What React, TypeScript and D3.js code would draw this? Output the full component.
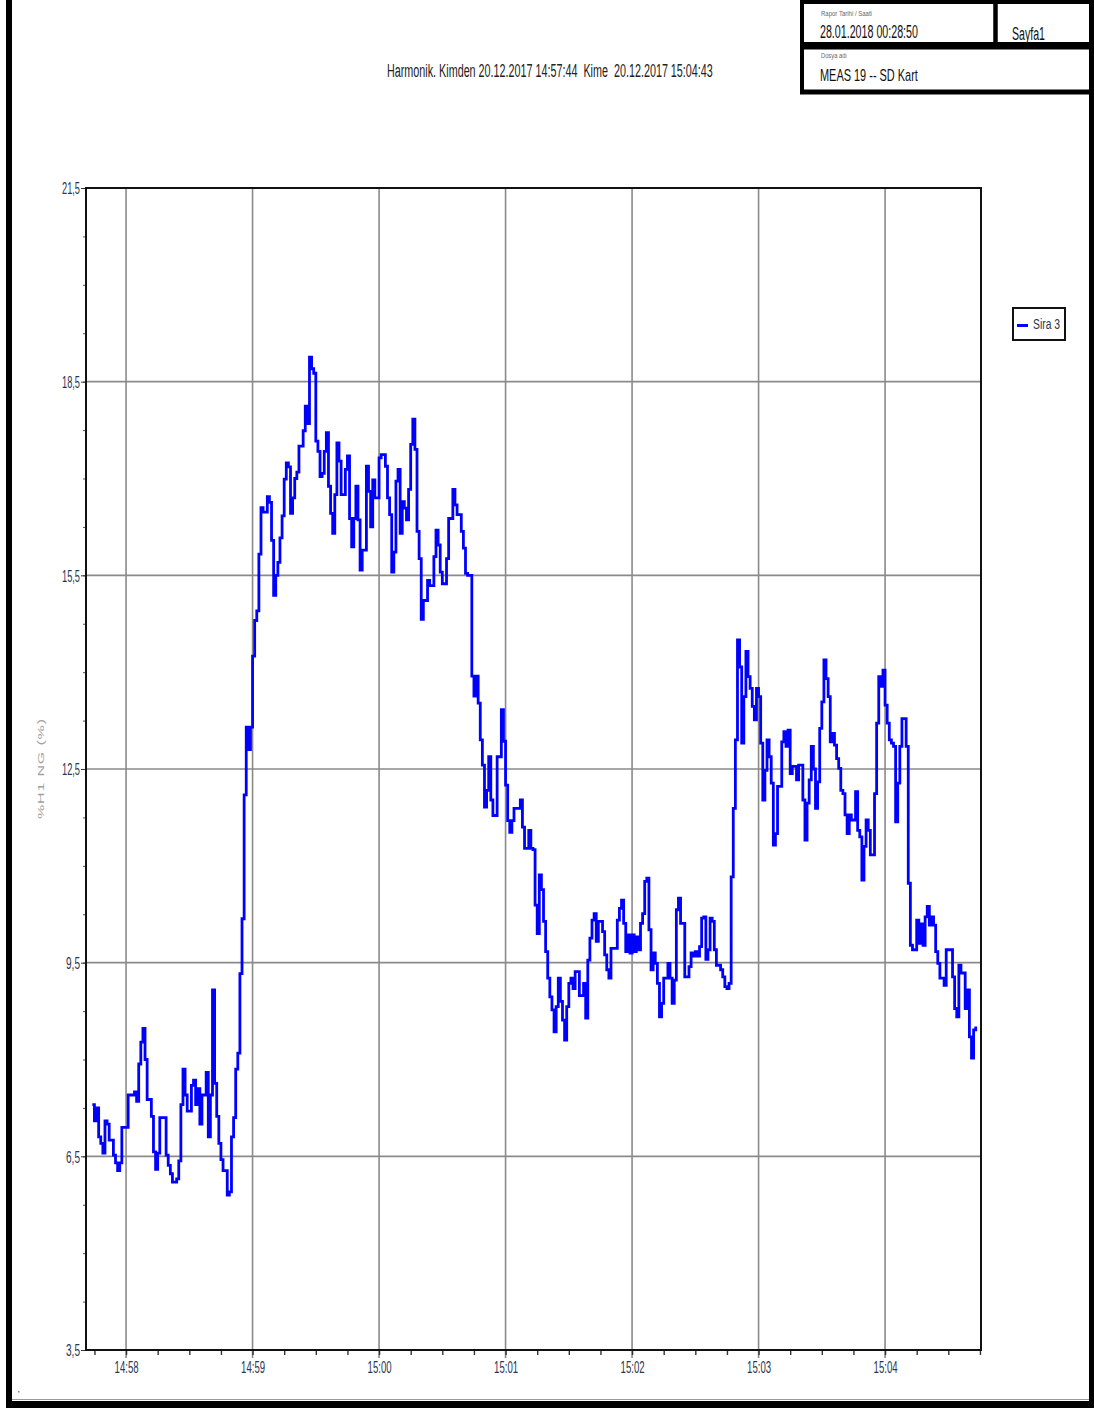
import React, { useEffect, useRef } from 'react';
import * as d3 from 'd3';

// recording window
const startTime = new Date(2017, 11, 20, 14, 57, 44);
const endTime = new Date(2017, 11, 20, 15, 4, 43);

// seconds after 14:57:44
const seconds = [
  0, 1, 2, 3, 4, 5, 6, 7, 8, 10, 11, 12, 13, 14, 17, 20, 21, 22, 23, 24, 25, 26, 28, 29, 30, 31, 32, 35, 36, 37, 38, 40,
  41, 42, 43, 44, 45, 47, 48, 49, 50, 51, 52, 54, 55, 56, 57, 58, 59, 60, 61, 62, 64, 65, 66, 67, 68, 69, 70, 71, 72, 73,
  74, 75, 76, 77, 78, 79, 80, 81, 83, 84, 85, 86, 87, 88, 89, 90, 91, 92, 93, 94, 95, 96, 97, 98, 100, 101, 102, 103, 104,
  105, 106, 107, 108, 109, 110, 111, 112, 113, 114, 115, 116, 117, 118, 120, 121, 122, 123, 124, 125, 126, 127, 128, 130,
  131, 132, 133, 134, 136, 137, 139, 140, 141, 142, 143, 144, 145, 146, 147, 148, 149, 150, 151, 152, 153, 154, 155, 156,
  157, 159, 160, 162, 163, 164, 165, 166, 168, 169, 171, 172, 173, 175, 176, 177, 178, 180, 181, 182, 183, 184, 185, 186,
  187, 188, 189, 190, 192, 194, 195, 196, 197, 198, 199, 200, 203, 204, 205, 207, 208, 209, 210, 211, 212, 213, 214, 215,
  216, 217, 218, 219, 220, 221, 222, 223, 224, 225, 226, 227, 228, 229, 231, 233, 234, 235, 236, 237, 238, 239, 240, 242,
  243, 244, 245, 246, 249, 250, 251, 252, 253, 254, 255, 256, 257, 258, 259, 260, 261, 262, 263, 264, 265, 266, 267, 268,
  269, 270, 271, 273, 274, 275, 276, 277, 278, 279, 281, 283, 284, 285, 286, 287, 288, 289, 290, 291, 292, 293, 294, 295,
  296, 298, 299, 300, 301, 302, 303, 304, 305, 306, 307, 308, 309, 310, 311, 312, 313, 314, 315, 316, 317, 318, 319, 320,
  321, 322, 323, 324, 325, 327, 328, 329, 330, 331, 332, 334, 335, 337, 338, 339, 340, 341, 342, 343, 344, 345, 346, 347,
  348, 349, 350, 351, 352, 353, 354, 355, 356, 357, 358, 359, 360, 362, 363, 364, 365, 366, 367, 368, 369, 371, 372, 373,
  374, 375, 376, 377, 378, 379, 380, 381, 382, 383, 384, 386, 387, 388, 389, 391, 392, 393, 394, 395, 396, 397, 398, 399,
  400, 401, 402, 404, 405, 408, 409, 410, 411, 412, 414, 415, 416, 417, 418, 419,
];

// %H1 NG (%) readings
const values = [
  7.3, 7.05, 7.25, 6.8, 6.7, 6.55, 7.05, 7.0, 6.75, 6.52, 6.4, 6.28, 6.4, 6.95, 7.45, 7.5, 7.35, 7.93, 8.27, 8.48, 8.0, 7.38,
  7.12, 6.57, 6.3, 6.55, 7.1, 6.52, 6.36, 6.23, 6.1, 6.15, 6.43, 7.3, 7.85, 7.45, 7.2, 7.6, 7.68, 7.3, 7.55, 7.0, 7.45, 7.8,
  6.8, 7.45, 9.08, 7.63, 7.12, 6.7, 6.45, 6.28, 5.9, 5.95, 6.8, 7.1, 7.85, 8.1, 9.33, 10.18, 12.1, 13.15, 12.8, 13.15, 14.25,
  14.8, 14.95, 15.83, 16.55, 16.48, 16.72, 16.63, 16.04, 15.19, 15.5, 15.7, 16.08, 16.42, 16.99, 17.24, 17.18, 16.46, 16.7,
  17.0, 17.1, 17.5, 17.74, 18.12, 17.85, 18.88, 18.7, 18.63, 17.58, 17.42, 17.03, 17.08, 17.42, 17.71, 16.88, 16.46, 16.15,
  16.75, 17.55, 17.27, 16.75, 17.14, 17.35, 16.38, 15.94, 16.38, 16.88, 16.36, 15.58, 15.89, 17.19, 16.8, 16.25, 16.98, 16.7,
  17.32, 17.37, 17.19, 16.7, 16.44, 15.55, 15.86, 16.96, 17.14, 16.15, 16.64, 16.54, 16.36, 16.83, 17.53, 17.92, 17.45, 16.18,
  15.76, 14.82, 15.11, 15.42, 15.34, 15.79, 16.2, 15.97, 15.55, 15.37, 15.76, 16.38, 16.83, 16.59, 16.44, 16.18, 15.92, 15.53,
  15.5, 13.94, 13.63, 13.94, 13.52, 12.95, 12.56, 11.91, 12.17, 12.69, 12.02, 11.78, 12.69, 13.42, 12.93, 12.25, 11.7, 11.52,
  11.7, 11.89, 12.02, 11.6, 11.27, 11.55, 11.27, 11.25, 10.39, 9.95, 10.86, 10.63, 10.14, 9.67, 9.26, 8.97, 8.77, 8.43, 8.82,
  9.26, 8.9, 8.61, 8.3, 8.82, 9.18, 9.26, 9.1, 9.36, 8.99, 9.18, 8.64, 9.54, 9.88, 10.16, 10.26, 9.83, 10.14, 9.98, 9.62, 9.39,
  9.26, 9.72, 10.16, 10.34, 10.47, 10.11, 9.67, 9.93, 9.65, 9.93, 9.67, 9.9, 9.7, 10.11, 10.26, 10.76, 10.81, 10.01, 9.39,
  9.65, 9.49, 9.18, 8.66, 8.87, 9.26, 9.49, 9.26, 8.87, 9.23, 10.32, 10.5, 10.11, 9.28, 9.44, 9.65, 9.6, 9.67, 9.6, 9.75,
  10.19, 10.21, 9.55, 9.7, 10.19, 10.14, 9.7, 9.46, 9.39, 9.28, 9.13, 9.1, 9.18, 10.83, 11.89, 12.95, 14.5, 14.08, 12.9,
  13.62, 14.32, 13.93, 13.75, 13.47, 13.26, 13.75, 13.62, 12.9, 12.02, 12.48, 12.95, 12.69, 12.28, 11.32, 11.5, 12.23, 12.92,
  13.08, 12.85, 13.1, 12.43, 12.54, 12.33, 12.56, 12.02, 11.4, 11.97, 12.33, 12.85, 12.5, 11.89, 12.3, 13.13, 13.54, 14.19,
  13.9, 13.62, 12.92, 13.05, 12.87, 12.66, 12.51, 12.17, 12.12, 11.79, 11.5, 11.79, 11.71, 12.15, 11.55, 11.45, 10.78, 11.3,
  11.71, 11.55, 11.17, 12.12, 13.21, 13.93, 13.78, 14.03, 13.49, 13.21, 12.95, 12.9, 12.85, 11.68, 12.28, 12.85, 13.28, 12.85,
  10.73, 9.77, 9.7, 10.16, 9.8, 10.1, 9.77, 10.21, 10.37, 10.08, 10.21, 10.08, 9.67, 9.49, 9.26, 9.15, 9.7, 9.28, 8.79, 8.66,
  9.46, 9.34, 8.79, 9.08, 8.35, 8.02, 8.46, 8.51,
];

const yTicks = [3.5, 6.5, 9.5, 12.5, 15.5, 18.5, 21.5];
const xTickLabels = ['14:58', '14:59', '15:00', '15:01', '15:02', '15:03', '15:04'];
const seriesName = 'Sira 3';
const yTitle = '%H1 NG (%)';
const title = 'Harmonik. Kimden 20.12.2017 14:57:44  Kime  20.12.2017 15:04:43';
const reportDateLabel = 'Rapor Tarihi / Saati';
const reportDate = '28.01.2018 00:28:50';
const pageLabel = 'Sayfa1';
const fileLabel = 'Dosya adı';
const fileName = 'MEAS 19 -- SD Kart';

const App: React.FC = () => {
  const svgRef = useRef<SVGSVGElement>(null);

  useEffect(() => {
    if (!svgRef.current) return;
    const svg = d3.select(svgRef.current);
    svg.selectAll('*').remove();

    const W = 1094;
    const H = 1408;
    const plot = { left: 86, right: 981, top: 188, bottom: 1350 };
    const font = "'Liberation Sans', Arial, sans-serif";
    const labelColor = '#2b3650';

    svg.append('rect').attr('width', W).attr('height', H).attr('fill', '#fff');

    // page frame
    const frame = svg.append('g').attr('fill', '#000');
    frame.append('rect').attr('x', 6).attr('y', 0).attr('width', 6).attr('height', H);
    frame.append('rect').attr('x', 1089).attr('y', 0).attr('width', 5).attr('height', H);
    frame.append('rect').attr('x', 6).attr('y', 1401).attr('width', W - 6).attr('height', 7);
    svg.append('line').attr('x1', 12).attr('x2', 1089).attr('y1', 1399.5).attr('y2', 1399.5)
      .attr('stroke', '#999').attr('stroke-width', 1);
    svg.append('rect').attr('x', 18).attr('y', 1391).attr('width', 1.5).attr('height', 1.5).attr('fill', '#888');

    // header boxes
    const hdr = svg.append('g').attr('fill', 'none').attr('stroke', '#000');
    hdr.append('rect').attr('x', 802).attr('y', 2).attr('width', 193.5).attr('height', 42).attr('stroke-width', 4);
    hdr.append('rect').attr('x', 995.5).attr('y', 2).attr('width', 95.5).attr('height', 42).attr('stroke-width', 4);
    hdr.append('rect').attr('x', 802).attr('y', 47.5).attr('width', 289).attr('height', 44).attr('stroke-width', 4);
    hdr.append('line').attr('x1', 800).attr('x2', 1094).attr('y1', 92.5).attr('y2', 92.5).attr('stroke-width', 4);

    // narrow text: draw at natural width, then squeeze horizontally to the target width
    const addText = (txt: string, xPos: number, yPos: number, size: number, len: number, color = '#111') => {
      const t = svg.append('text')
        .attr('x', 0).attr('y', 0)
        .attr('font-family', font).attr('font-size', size)
        .attr('fill', color)
        .style('white-space', 'pre')
        .text(txt);
      const natural = (t.node() as SVGTextElement).getComputedTextLength() || len;
      t.attr('transform', `translate(${xPos},${yPos}) scale(${len / natural},1)`);
      return t;
    };

    addText(reportDateLabel, 821, 16, 7, 51, '#666');
    addText(reportDate, 820, 38, 19, 98);
    addText(pageLabel, 1012, 40, 18, 33);
    addText(fileLabel, 821, 58, 7, 26, '#666');
    addText(fileName, 820, 81, 17, 98);
    addText(title, 387, 77, 19, 326, '#222');

    // scales
    const x = d3.scaleTime()
      .domain([d3.timeSecond.offset(startTime, -3), d3.timeMillisecond.offset(endTime, 2500)])
      .range([plot.left, plot.right]);
    const y = d3.scaleLinear().domain([3.5, 21.5]).range([plot.bottom, plot.top]);

    const minuteDates = xTickLabels.map(s => {
      const [h, m] = s.split(':').map(Number);
      return new Date(2017, 11, 20, h, m, 0);
    });

    // gridlines
    const grid = svg.append('g').attr('stroke', '#8a8a8a').attr('stroke-width', 1.6);
    grid.selectAll('line.h')
      .data(yTicks.filter(v => v > 3.5 && v < 21.5))
      .join('line')
      .attr('x1', plot.left).attr('x2', plot.right)
      .attr('y1', d => y(d)).attr('y2', d => y(d));
    grid.selectAll('line.v')
      .data(minuteDates)
      .join('line')
      .attr('x1', d => x(d)).attr('x2', d => x(d))
      .attr('y1', plot.top).attr('y2', plot.bottom + 8);

    // y axis
    const yMinor = d3.range(yTicks[0], yTicks[yTicks.length - 1] + 1e-6, 0.75);
    const yMinorAxis = svg.append('g')
      .attr('transform', `translate(${plot.left},0)`)
      .call(d3.axisLeft(y).tickValues(yMinor).tickSize(3).tickFormat(() => ''));
    yMinorAxis.select('.domain').remove();
    yMinorAxis.selectAll('line').attr('stroke', '#555');

    const yAxis = svg.append('g')
      .attr('transform', `translate(${plot.left},0)`)
      .call(d3.axisLeft(y).tickValues(yTicks).tickSize(5).tickPadding(1)
        .tickFormat(d => (d as number).toFixed(1).replace('.', ',')));
    yAxis.select('.domain').remove();
    yAxis.selectAll('line').attr('stroke', '#333');
    yAxis.selectAll<SVGTextElement, number>('text')
      .attr('font-family', font).attr('font-size', 16).attr('fill', labelColor)
      .attr('dy', '0.36em')
      .attr('textLength', d => (d >= 10 ? 18 : 14)).attr('lengthAdjust', 'spacingAndGlyphs');

    // x axis
    const xMinor = d3.timeSecond.every(15)!.range(x.domain()[0], x.domain()[1]);
    const xMinorAxis = svg.append('g')
      .attr('transform', `translate(0,${plot.bottom})`)
      .call(d3.axisBottom(x).tickValues(xMinor).tickSize(5).tickFormat(() => ''));
    xMinorAxis.select('.domain').remove();
    xMinorAxis.selectAll('line').attr('stroke', '#333').attr('stroke-width', 1.4);

    const xAxis = svg.append('g')
      .attr('transform', `translate(0,${plot.bottom})`)
      .call(d3.axisBottom(x).tickValues(minuteDates).tickSize(0).tickPadding(11)
        .tickFormat(d3.timeFormat('%H:%M') as any));
    xAxis.select('.domain').remove();
    xAxis.selectAll('text')
      .attr('font-family', font).attr('font-size', 17).attr('fill', labelColor)
      .attr('textLength', 24).attr('lengthAdjust', 'spacingAndGlyphs');

    // y title (narrow, rotated)
    svg.append('text')
      .attr('transform', `translate(44,${(plot.top + plot.bottom) / 2}) scale(0.55,1) rotate(-90)`)
      .attr('text-anchor', 'middle')
      .attr('font-family', font).attr('font-size', 16)
      .attr('fill', '#a0a0a0')
      .attr('textLength', 100).attr('lengthAdjust', 'spacing')
      .text(yTitle);

    // series
    const line = d3.line<number>()
      .x(s => x(d3.timeSecond.offset(startTime, s)))
      .y((_, i) => y(values[i]))
      .curve(d3.curveStepAfter);
    svg.append('path')
      .datum(seconds)
      .attr('d', line)
      .attr('fill', 'none')
      .attr('stroke', '#0000ff')
      .attr('stroke-width', 2.8);

    // plot border
    svg.append('rect')
      .attr('x', plot.left).attr('y', plot.top)
      .attr('width', plot.right - plot.left).attr('height', plot.bottom - plot.top)
      .attr('fill', 'none').attr('stroke', '#111').attr('stroke-width', 2);

    // legend
    const lg = svg.append('g');
    lg.append('rect').attr('x', 1013).attr('y', 308).attr('width', 52).attr('height', 32)
      .attr('fill', '#fff').attr('stroke', '#111').attr('stroke-width', 2);
    lg.append('line').attr('x1', 1017).attr('x2', 1028).attr('y1', 325.5).attr('y2', 325.5)
      .attr('stroke', '#0000ff').attr('stroke-width', 3);
    lg.append('text').attr('x', 1033).attr('y', 329)
      .attr('font-family', font).attr('font-size', 14).attr('fill', labelColor)
      .attr('textLength', 27).attr('lengthAdjust', 'spacingAndGlyphs')
      .text(seriesName);
  }, []);

  return (
    <div>
      <svg ref={svgRef} width={1094} height={1408}
        style={{ position: 'absolute', left: 0, top: 0, display: 'block' }} />
    </div>
  );
};

export default App;
